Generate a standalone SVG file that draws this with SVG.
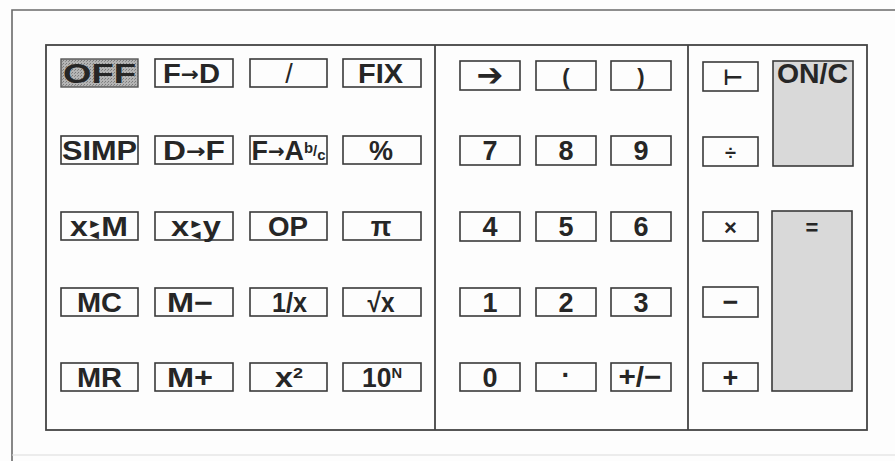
<svg xmlns="http://www.w3.org/2000/svg" width="895" height="461" viewBox="0 0 895 461">
<defs>
<pattern id="stip" width="3" height="3" patternUnits="userSpaceOnUse">
<rect width="3" height="3" fill="#b4b4b4"/>
<rect width="1" height="1" fill="#7a7a7a"/>
<rect x="2" y="1" width="1" height="1" fill="#8a8a8a"/>
</pattern>
<style>
.k{fill:#fdfdfd;stroke:#3a3a3a;stroke-width:1.6}
.g{fill:#d9d9d9;stroke:#3a3a3a;stroke-width:1.6}
.t{font-family:"Liberation Sans",Arial,"DejaVu Sans",sans-serif;font-weight:bold;font-size:27px;fill:#262626;text-anchor:middle}
.s{font-size:15px}
.a{font-family:"DejaVu Sans",sans-serif;font-size:20px}
.tri{font-family:"DejaVu Sans",sans-serif;font-size:10px}
</style>
</defs>
<rect width="895" height="461" fill="#fdfdfd"/>
<g id="frame" fill="none">
<path d="M12,461 V10 H895" stroke="#6a6a6a" stroke-width="1.6"/>
<path d="M12,455 H895" stroke="#dcdcdc" stroke-width="1.2"/>
<rect x="46" y="45" width="821" height="385" stroke="#444" stroke-width="1.8"/>
<path d="M435,45 V430 M688,45 V430" stroke="#444" stroke-width="1.8"/>
</g>
<g id="key-off"><rect x="61" y="59" width="77" height="28" fill="url(#stip)" stroke="#555" stroke-width="1.4"/><text class="t" x="99.5" y="83" textLength="73" lengthAdjust="spacingAndGlyphs" fill="#2b2b2b">OFF</text></g>
<g id="key-fd"><rect class="k" x="155" y="59" width="78" height="28"/><text class="t" x="191.5" y="83" textLength="57" lengthAdjust="spacingAndGlyphs">F<tspan class="a" dy="-2">→</tspan><tspan dy="2">D</tspan></text></g>
<g id="key-slash"><rect class="k" x="250" y="59" width="77" height="28"/><text class="t" x="289" y="83" style="font-weight:normal">/</text></g>
<g id="key-fix"><rect class="k" x="343" y="59" width="78" height="28"/><text class="t" x="380.5" y="83" textLength="45" lengthAdjust="spacingAndGlyphs">FIX</text></g>
<g id="key-simp"><rect class="k" x="61" y="136" width="77" height="28"/><text class="t" x="99.5" y="160" textLength="75" lengthAdjust="spacingAndGlyphs">SIMP</text></g>
<g id="key-df"><rect class="k" x="155" y="136" width="78" height="28"/><text class="t" x="194" y="160" textLength="62" lengthAdjust="spacingAndGlyphs">D<tspan class="a" dy="-2">→</tspan><tspan dy="2">F</tspan></text></g>
<g id="key-fab"><rect class="k" x="250" y="136" width="77" height="28"/><text class="t" x="288.5" y="160" textLength="74" lengthAdjust="spacingAndGlyphs">F<tspan class="a" dy="-2">→</tspan><tspan dy="2">A</tspan><tspan class="s" dy="-7">b</tspan><tspan class="s" dy="3">/</tspan><tspan class="s" dy="4">c</tspan></text></g>
<g id="key-pct"><rect class="k" x="343" y="136" width="78" height="28"/><text class="t" x="381" y="160">%</text></g>
<g id="key-xm"><rect class="k" x="61" y="212" width="77" height="28"/><text class="t" x="99" y="236" textLength="58" lengthAdjust="spacingAndGlyphs">x<tspan class="tri" dx="2" dy="-9">▶</tspan><tspan class="tri" dx="-8" dy="11">◀</tspan><tspan dx="2" dy="-2">M</tspan></text></g>
<g id="key-xy"><rect class="k" x="155" y="212" width="78" height="28"/><text class="t" x="196" y="236" textLength="50" lengthAdjust="spacingAndGlyphs">x<tspan class="tri" dx="2" dy="-9">▶</tspan><tspan class="tri" dx="-8" dy="11">◀</tspan><tspan dx="2" dy="-2">y</tspan></text></g>
<g id="key-op"><rect class="k" x="250" y="212" width="77" height="28"/><text class="t" x="288" y="236" textLength="40" lengthAdjust="spacingAndGlyphs">OP</text></g>
<g id="key-pi"><rect class="k" x="343" y="212" width="78" height="28"/><text class="t" x="381" y="236">π</text></g>
<g id="key-mc"><rect class="k" x="61" y="288" width="77" height="28"/><text class="t" x="99.5" y="312" textLength="45" lengthAdjust="spacingAndGlyphs">MC</text></g>
<g id="key-mminus"><rect class="k" x="155" y="288" width="78" height="28"/><text class="t" x="190" y="312" textLength="46" lengthAdjust="spacingAndGlyphs">M−</text></g>
<g id="key-inv"><rect class="k" x="250" y="288" width="77" height="28"/><text class="t" x="289.5" y="312" textLength="35" lengthAdjust="spacingAndGlyphs">1/x</text></g>
<g id="key-sqrt"><rect class="k" x="343" y="288" width="78" height="28"/><text class="t" x="381" y="312" textLength="27" lengthAdjust="spacingAndGlyphs">√x</text></g>
<g id="key-mr"><rect class="k" x="61" y="363" width="77" height="28"/><text class="t" x="99.5" y="387" textLength="45" lengthAdjust="spacingAndGlyphs">MR</text></g>
<g id="key-mplus"><rect class="k" x="155" y="363" width="78" height="28"/><text class="t" x="190" y="387" textLength="46" lengthAdjust="spacingAndGlyphs">M+</text></g>
<g id="key-sq"><rect class="k" x="250" y="363" width="77" height="28"/><text class="t" x="289" y="387" textLength="28" lengthAdjust="spacingAndGlyphs">x<tspan class="s" dy="-9">2</tspan></text></g>
<g id="key-pow"><rect class="k" x="343" y="363" width="78" height="28"/><text class="t" x="382" y="387" textLength="40" lengthAdjust="spacingAndGlyphs">10<tspan class="s" dy="-9">N</tspan></text></g>
<g id="key-arrow"><rect class="k" x="460" y="61" width="60" height="29"/><text class="t" x="490" y="86" style="font-family:'DejaVu Sans',sans-serif;font-size:32px">➔</text></g>
<g id="key-lpar"><rect class="k" x="536" y="61" width="60" height="29"/><text class="t" x="566" y="84" style="font-size:22px">(</text></g>
<g id="key-rpar"><rect class="k" x="611" y="61" width="60" height="29"/><text class="t" x="641" y="84" style="font-size:22px">)</text></g>
<g id="key-7"><rect class="k" x="460" y="136" width="60" height="29"/><text class="t" x="490" y="160">7</text></g>
<g id="key-8"><rect class="k" x="536" y="136" width="60" height="29"/><text class="t" x="566" y="160">8</text></g>
<g id="key-9"><rect class="k" x="611" y="136" width="60" height="29"/><text class="t" x="641" y="160">9</text></g>
<g id="key-4"><rect class="k" x="460" y="212" width="60" height="29"/><text class="t" x="490" y="236">4</text></g>
<g id="key-5"><rect class="k" x="536" y="212" width="60" height="29"/><text class="t" x="566" y="236">5</text></g>
<g id="key-6"><rect class="k" x="611" y="212" width="60" height="29"/><text class="t" x="641" y="236">6</text></g>
<g id="key-1"><rect class="k" x="460" y="288" width="60" height="28"/><text class="t" x="490" y="312">1</text></g>
<g id="key-2"><rect class="k" x="536" y="288" width="60" height="28"/><text class="t" x="566" y="312">2</text></g>
<g id="key-3"><rect class="k" x="611" y="288" width="60" height="28"/><text class="t" x="641" y="312">3</text></g>
<g id="key-0"><rect class="k" x="460" y="363" width="60" height="28"/><text class="t" x="490" y="387">0</text></g>
<g id="key-dot"><rect class="k" x="536" y="363" width="60" height="28"/><text class="t" x="566" y="384">·</text></g>
<g id="key-neg"><rect class="k" x="611" y="363" width="60" height="28"/><text class="t" x="640" y="386" textLength="43" lengthAdjust="spacingAndGlyphs">+/−</text></g>
<g id="key-tee"><rect class="k" x="703" y="62" width="55" height="29"/><text class="t" x="733" y="85" style="font-family:'DejaVu Sans',sans-serif;font-size:22px">⊢</text></g>
<g id="key-div"><rect class="k" x="703" y="137" width="55" height="29"/><text class="t" x="730.5" y="160" style="font-size:20px">÷</text></g>
<g id="key-mul"><rect class="k" x="703" y="212" width="55" height="29"/><text class="t" x="730.5" y="235" style="font-size:22px">×</text></g>
<g id="key-sub"><rect class="k" x="703" y="287" width="55" height="30"/><text class="t" x="730.5" y="311">−</text></g>
<g id="key-add"><rect class="k" x="703" y="363" width="55" height="28"/><text class="t" x="730.5" y="387">+</text></g>
<g id="key-onc"><rect class="g" x="773" y="61" width="80" height="105"/><text class="t" x="812.5" y="83" textLength="71" lengthAdjust="spacingAndGlyphs">ON/C</text></g>
<g id="key-eq"><rect class="g" x="772" y="211" width="80" height="180"/><text class="t" x="812" y="235" style="font-size:22px">=</text></g>
</svg>
